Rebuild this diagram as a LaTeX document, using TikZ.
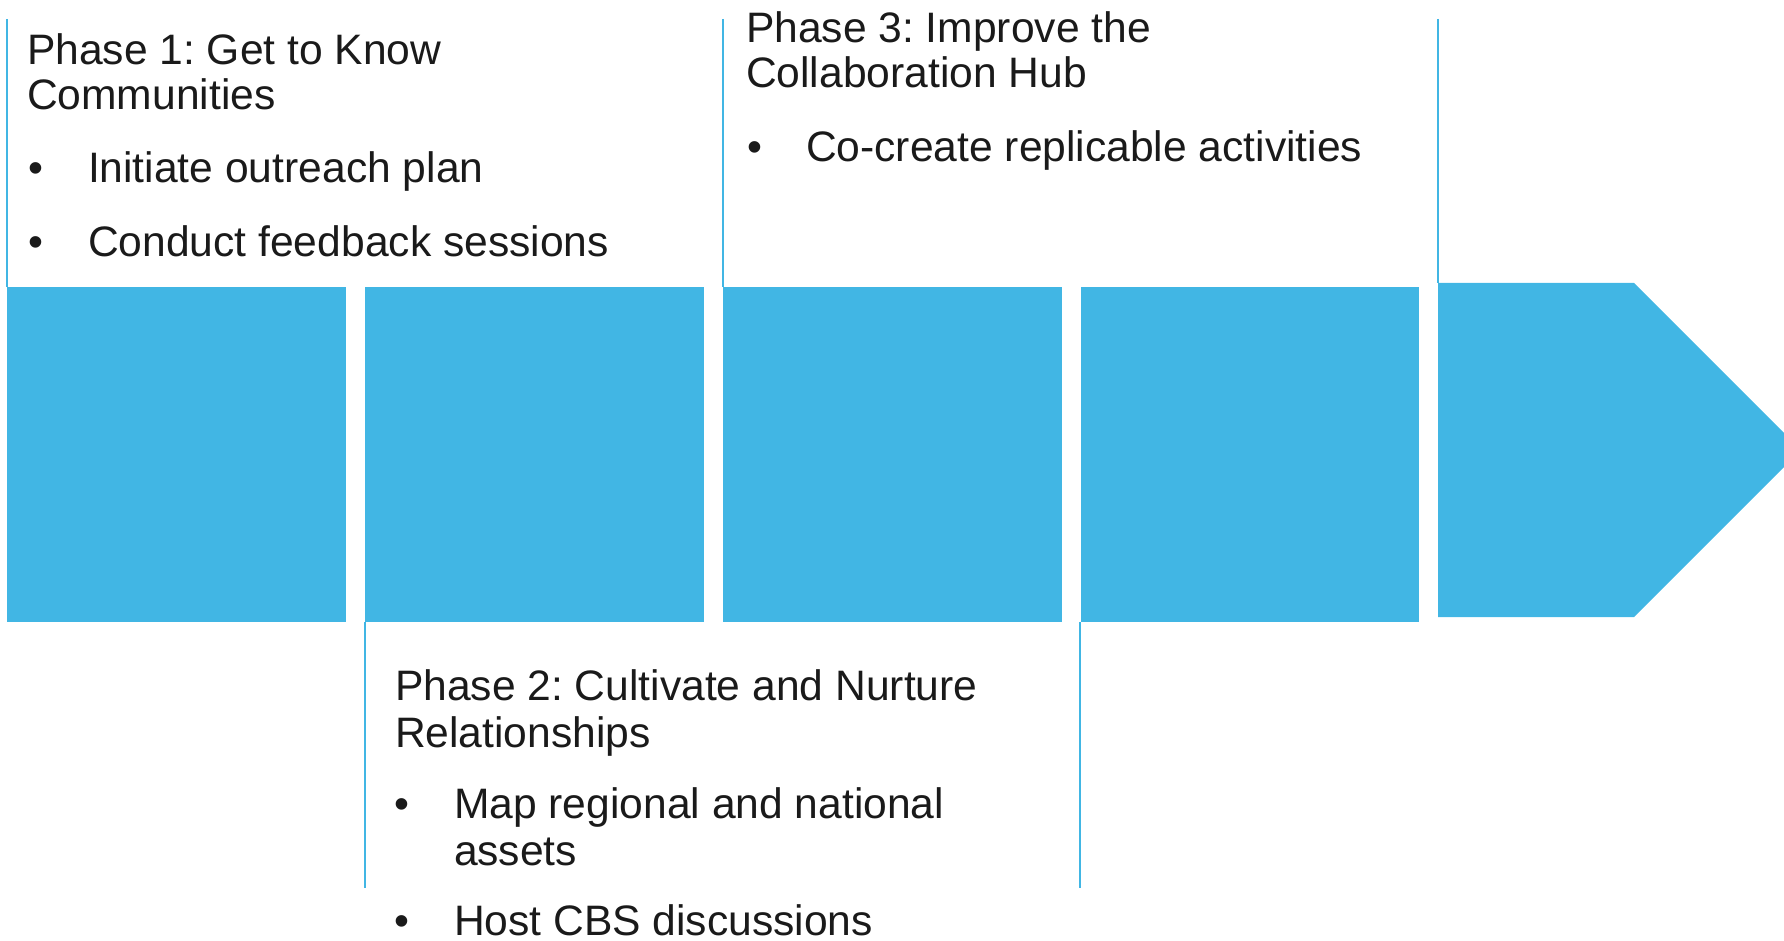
\documentclass[tikz,border=0pt]{standalone}
\usepackage{fontspec}
\setmainfont{Liberation Sans}
\frenchspacing
\definecolor{barblue}{HTML}{41B6E4}
\definecolor{txt}{HTML}{1A1A1A}
\begin{document}
\begin{tikzpicture}[x=0.5pt,y=-0.5pt,
  block/.style={fill=barblue,draw=none},
  guide/.style={draw=barblue,line width=0.8pt},
  lbl/.style={anchor=base west,inner sep=0pt,outer sep=0pt,text=txt,font=\fontsize{21.3}{22.5}\selectfont\frenchspacing}]
\useasboundingbox (0,0) rectangle (1784,941);
\clip (0,0) rectangle (1784,941);
% guide lines
\coordinate (g1a) at (7,19);   \coordinate (g1b) at (7,287);
\coordinate (g3a) at (723,19); \coordinate (g3b) at (723,287);
\coordinate (g5a) at (1438,19); \coordinate (g5b) at (1438,283);
\coordinate (g2a) at (365,622); \coordinate (g2b) at (365,888);
\coordinate (g4a) at (1080,622); \coordinate (g4b) at (1080,888);
\draw[guide] (g1a) -- (g1b);
\draw[guide] (g3a) -- (g3b);
\draw[guide] (g5a) -- (g5b);
\draw[guide] (g2a) -- (g2b);
\draw[guide] (g4a) -- (g4b);
% blocks
\fill[block] (7,287) rectangle (346,622);
\fill[block] (365,287) rectangle (704,622);
\fill[block] (723,287) rectangle (1062,622);
\fill[block] (1081,287) rectangle (1419,622);
\fill[block] (1438,283) -- (1634,283) -- (1801,450) -- (1634,617) -- (1438,617) -- cycle;
% Phase 1
\node[lbl] (p1a) at (27,65) {Phase 1: Get to Know};
\node[lbl] (p1b) at (27,110) {Communities};
\node[lbl] (p1d1) at (28,183) {•};
\node[lbl] (p1t1) at (88,183) {Initiate outreach plan};
\node[lbl] (p1d2) at (28,257) {•};
\node[lbl] (p1t2) at (88,257) {Conduct feedback sessions};
% Phase 3
\node[lbl] (p3a) at (746,43) {Phase 3: Improve the};
\node[lbl] (p3b) at (746,88) {Collaboration Hub};
\node[lbl] (p3d1) at (747,162) {•};
\node[lbl] (p3t1) at (806,162) {Co-create replicable activities};
% Phase 2
\node[lbl] (p2a) at (395,700) {Phase 2: Cultivate and Nurture};
\node[lbl] (p2b) at (395,747) {Relationships};
\node[lbl] (p2d1) at (394,818) {•};
\node[lbl] (p2t1) at (454,818) {Map regional and national};
\node[lbl] (p2t1b) at (454,865) {assets};
\node[lbl] (p2d2) at (394,935) {•};
\node[lbl] (p2t2) at (454,935) {Host CBS discussions};
\end{tikzpicture}
\end{document}
